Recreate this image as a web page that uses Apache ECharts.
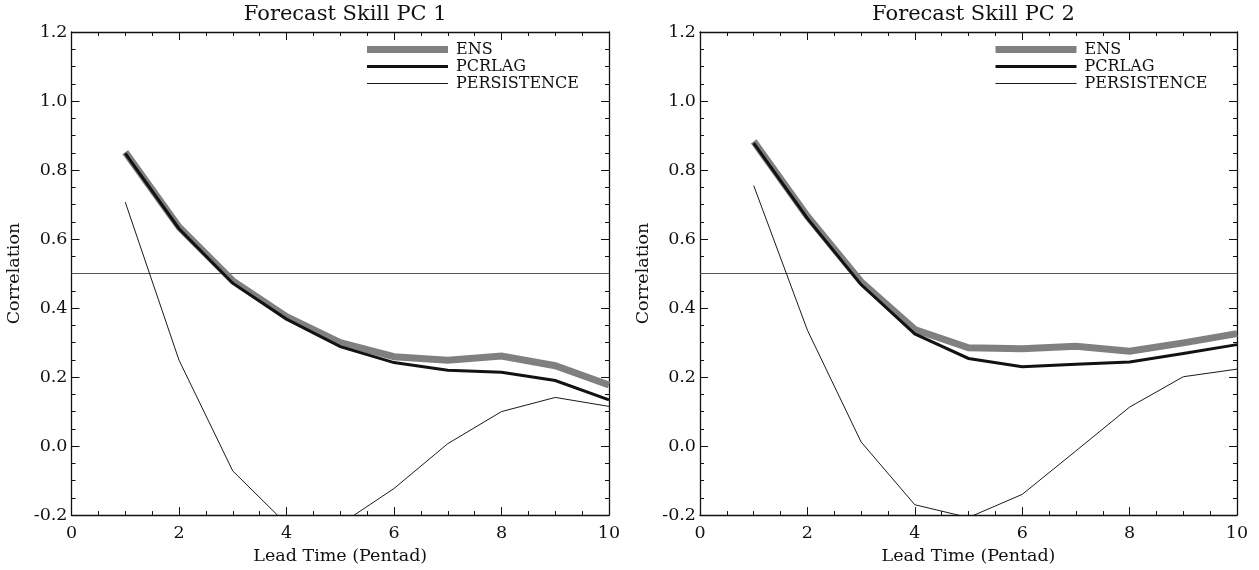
<!DOCTYPE html>
<html>
<head>
<meta charset="utf-8">
<script src="https://cdn.jsdelivr.net/npm/echarts@6/dist/echarts.min.js"></script>
<style>
html,body{margin:0;padding:0;background:#fff;}
#chart{width:1259px;height:570px;}
</style>
</head>
<body>
<div id="chart"></div>
<script>
// ---- data ----
const leadTime = [1, 2, 3, 4, 5, 6, 7, 8, 9, 10];
const titles = ['Forecast Skill PC 1', 'Forecast Skill PC 2'];
const seriesNames = ['ENS', 'PCRLAG', 'PERSISTENCE'];
const xTicks = [0, 2, 4, 6, 8, 10];
const yTicks = [-0.2, 0.0, 0.2, 0.4, 0.6, 0.8, 1.0, 1.2];
const refLevel = 0.5;

const pc1Ens   = [0.852, 0.635, 0.479, 0.375, 0.300, 0.259, 0.249, 0.261, 0.233, 0.177];
const pc1Pcr   = [0.848, 0.630, 0.472, 0.368, 0.288, 0.242, 0.220, 0.214, 0.190, 0.134];
const pc1Pers  = [0.707, 0.249, -0.072, -0.226, -0.227, -0.123, 0.007, 0.100, 0.141, 0.115];

const pc2Ens   = [0.883, 0.666, 0.476, 0.338, 0.285, 0.282, 0.289, 0.275, 0.299, 0.326];
const pc2Pcr   = [0.878, 0.660, 0.468, 0.325, 0.254, 0.230, 0.237, 0.244, 0.268, 0.294];
const pc2Pers  = [0.755, 0.336, 0.012, -0.170, -0.207, -0.140, -0.014, 0.113, 0.201, 0.223];

const panels = [
  {ens: pc1Ens, pcr: pc1Pcr, pers: pc1Pers},
  {ens: pc2Ens, pcr: pc2Pcr, pers: pc2Pers}
];

// ---- styles ----
const FONT = '"DejaVu Serif", "Liberation Serif", serif';
const INK = '#111111';
const grids = [
  {left: 71.5, right: 650, top: 32, bottom: 50},
  {left: 700, right: 22, top: 32, bottom: 50}
];
const lineStyles = [
  {color: '#808080', width: 7},
  {color: '#121212', width: 3},
  {color: '#1a1a1a', width: 1}
];

function pairs(arr) { return leadTime.map((x, i) => [x, arr[i]]); }

const xAxes = [], yAxes = [], series = [], titleArr = [], legends = [];
const tickCommon = {
  axisLine: {show: true, onZero: false, lineStyle: {color: INK, width: 1.3}},
  axisTick: {show: true, inside: true, length: 8, lineStyle: {color: INK, width: 1}},
  minorTick: {show: true, splitNumber: 4, length: 4, lineStyle: {color: INK, width: 1}},
  splitLine: {show: false},
  minorSplitLine: {show: false}
};

grids.forEach((g, gi) => {
  const xMin = xTicks[0], xMax = xTicks[xTicks.length - 1];
  const yMin = yTicks[0], yMax = yTicks[yTicks.length - 1];
  // bottom
  xAxes.push(Object.assign({
    type: 'value', gridIndex: gi, position: 'bottom', min: xMin, max: xMax, interval: 2,
    name: 'Lead Time (Pentad)', nameLocation: 'middle', nameGap: 28,
    nameTextStyle: {fontFamily: FONT, fontSize: 17.5, color: INK},
    axisLabel: {show: true, margin: 9, fontFamily: FONT, fontSize: 17.5, color: INK,
      formatter: v => String(v)}
  }, tickCommon));
  // top
  xAxes.push(Object.assign({
    type: 'value', gridIndex: gi, position: 'top', min: xMin, max: xMax, interval: 2,
    axisLabel: {show: false}
  }, tickCommon));
  // left
  yAxes.push(Object.assign({
    type: 'value', gridIndex: gi, position: 'left', min: yMin, max: yMax, interval: 0.2,
    name: 'Correlation', nameLocation: 'middle', nameGap: 48,
    nameTextStyle: {fontFamily: FONT, fontSize: 17.5, color: INK},
    axisLabel: {show: true, margin: 4, fontFamily: FONT, fontSize: 17.5, color: INK,
      formatter: v => v.toFixed(1)}
  }, tickCommon));
  // right
  yAxes.push(Object.assign({
    type: 'value', gridIndex: gi, position: 'right', min: yMin, max: yMax, interval: 0.2,
    axisLabel: {show: false}
  }, tickCommon));

  const p = panels[gi];
  const dataSets = [p.ens, p.pcr, p.pers];
  dataSets.forEach((d, si) => {
    const s = {
      name: seriesNames[si], type: 'line', xAxisIndex: gi * 2, yAxisIndex: gi * 2,
      data: pairs(d), symbol: 'none', clip: true, silent: true, animation: false,
      lineStyle: {color: lineStyles[si].color, width: lineStyles[si].width, join: 'miter'},
      itemStyle: {color: lineStyles[si].color},
      z: 10 + si
    };
    if (si === 2) {
      s.markLine = {
        silent: true, symbol: 'none', animation: false,
        label: {show: false},
        lineStyle: {color: '#555555', width: 1.2, type: 'solid'},
        data: [{yAxis: refLevel}]
      };
    }
    series.push(s);
  });

  const cx = g.left + ((1259 - g.left - g.right) / 2);
  titleArr.push({
    text: titles[gi], left: cx, top: -1, textAlign: 'center',
    textStyle: {fontFamily: FONT, fontSize: 21, fontWeight: 'normal', color: INK}
  });
  legends.push({
    orient: 'vertical', left: g.left + 292, top: 41, padding: 0,
    itemWidth: 81, itemHeight: 17, itemGap: 0,
    selectedMode: false,
    itemStyle: {opacity: 0},
    textStyle: {fontFamily: FONT, fontSize: 16, color: INK, lineHeight: 17, padding: [0, 0, 0, 3]},
    data: seriesNames.map((n, si) => ({
      name: n,
      itemStyle: {opacity: 0},
      lineStyle: {color: lineStyles[si].color, width: lineStyles[si].width}
    }))
  });
});

const chart = echarts.init(document.getElementById('chart'), null, {renderer: 'canvas'});
chart.setOption({
  backgroundColor: '#ffffff',
  animation: false,
  title: titleArr,
  legend: legends,
  grid: grids,
  xAxis: xAxes,
  yAxis: yAxes,
  series: series
});
</script>
</body>
</html>
